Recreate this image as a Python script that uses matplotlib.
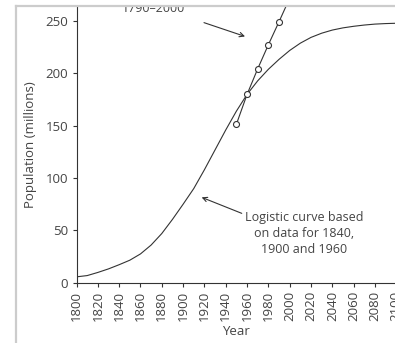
import matplotlib
matplotlib.use("Agg")
import matplotlib.pyplot as plt
from matplotlib.patches import Rectangle
from matplotlib.lines import Line2D

plt.rcParams['font.family'] = ['Open Sans', 'DejaVu Sans']

# Logistic curve (fitted to 1840, 1900 and 1960), millions
logistic_years = [1800, 1810, 1820, 1830, 1840, 1850, 1860, 1870, 1880, 1890,
                  1900, 1910, 1920, 1930, 1940, 1950, 1960, 1970, 1980, 1990,
                  2000, 2010, 2020, 2030, 2040, 2050, 2060, 2070, 2080, 2090, 2100]
logistic_pop = [5.6, 6.8, 9.8, 13.2, 17.2, 21.5, 27.5, 36.0, 47.0, 60.5,
                75.0, 90.0, 108.0, 127.0, 146.0, 164.0, 180.0, 193.0, 204.0, 213.5,
                222.0, 229.0, 234.5, 238.5, 241.5, 243.6, 245.1, 246.3, 247.2, 247.7, 248.0]

# Census counts, millions
census_years = [1950, 1960, 1970, 1980, 1990, 2000]
census_pop = [151.5, 180.0, 204.5, 227.5, 249.5, 272.0]

x_ticks = list(range(1800, 2101, 20))
y_ticks = [0, 50, 100, 150, 200, 250]

INK = '#333333'
TXT = '#444444'

W, H = 395, 343
fig = plt.figure(figsize=(W / 100, H / 100), dpi=100)
fig.patch.set_facecolor('white')

left_px, right_px, bottom_px, top_px = 76.5, 396.3, 282.7, 6.0
ax = fig.add_axes([left_px / W, 1 - bottom_px / H,
                   (right_px - left_px) / W, (bottom_px - top_px) / H])
ax.set_xlim(1800, 2100)
ax.set_ylim(0, 264.5)

ax.plot(logistic_years, logistic_pop, color=INK, lw=0.8)
ax.plot(census_years, census_pop, color=INK, lw=0.8, marker='o', ms=4.3,
        mfc='white', mec=INK, mew=0.8)

for s in ('top', 'right'):
    ax.spines[s].set_visible(False)
for s in ('left', 'bottom'):
    ax.spines[s].set_color(INK)
    ax.spines[s].set_linewidth(0.8)

ax.set_xticks(x_ticks)
ax.set_xticklabels([str(v) for v in x_ticks], rotation=90)
ax.set_yticks(y_ticks)
ax.tick_params(axis='both', colors=INK, labelcolor=TXT, labelsize=9.5,
               length=2.8, width=0.8, pad=3.2)

ax.set_ylabel('Population (millions)', fontsize=9.5, color=TXT, labelpad=6)
ax.set_xlabel('Year', fontsize=9.5, color=TXT, labelpad=3)

arrow_style = dict(arrowstyle='->', color=INK, lw=0.8,
                   mutation_scale=8, shrinkA=0, shrinkB=0)
ax.annotate('', xy=(1958.1, 235.4), xytext=(1919.6, 248.6),
            arrowprops=arrow_style, annotation_clip=False)
ax.annotate('', xy=(1917.4, 81.6), xytext=(1955.0, 66.3),
            arrowprops=arrow_style)

ax.text(2013.4, 47.5, 'Logistic curve based\non data for 1840,\n1900 and 1960',
        ha='center', va='center', multialignment='center',
        fontsize=9, color=TXT, linespacing=1.3)

# Caption line above the plot, partly hidden by the frame
fig.text(153.5 / W, 1 - 11.7 / H, '1790\u20132000', ha='center',
         va='baseline', fontsize=9, color=TXT, zorder=1)

fig.add_artist(Rectangle((0, 1 - 6.5 / H), 1, 6.5 / H, transform=fig.transFigure,
                         facecolor='white', edgecolor='none', zorder=20))
fig.add_artist(Line2D([15.5 / W, 1], [1 - 6 / H, 1 - 6 / H], transform=fig.transFigure,
                      color='#cccccc', lw=1.6, zorder=21))
fig.add_artist(Line2D([15.5 / W, 15.5 / W], [0, 1 - 6 / H], transform=fig.transFigure,
                      color='#cccccc', lw=1.6, zorder=21))

fig.savefig('out.png', dpi=100)
